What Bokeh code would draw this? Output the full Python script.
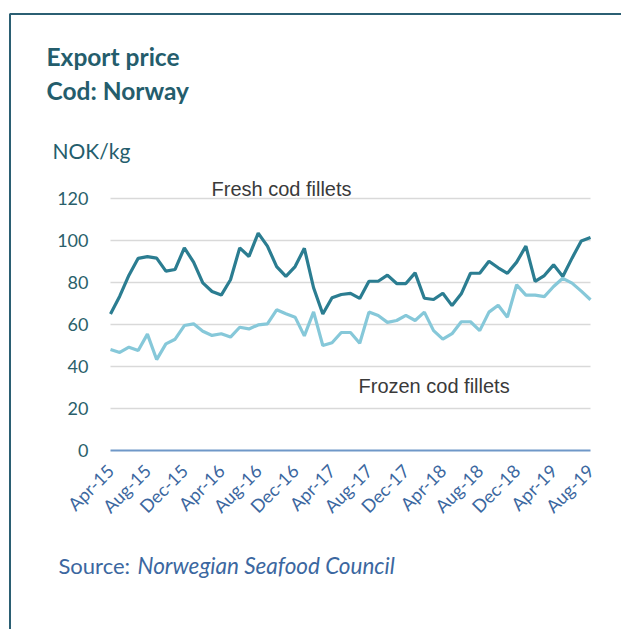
import math
from bokeh.plotting import figure
from bokeh.models import (Range1d, FixedTicker, Label, BoxAnnotation)
from bokeh.embed import file_html
from bokeh.resources import INLINE

months = ["Apr-15", "May-15", "Jun-15", "Jul-15", "Aug-15", "Sep-15", "Oct-15", "Nov-15", "Dec-15",
          "Jan-16", "Feb-16", "Mar-16", "Apr-16", "May-16", "Jun-16", "Jul-16", "Aug-16", "Sep-16",
          "Oct-16", "Nov-16", "Dec-16", "Jan-17", "Feb-17", "Mar-17", "Apr-17", "May-17", "Jun-17",
          "Jul-17", "Aug-17", "Sep-17", "Oct-17", "Nov-17", "Dec-17", "Jan-18", "Feb-18", "Mar-18",
          "Apr-18", "May-18", "Jun-18", "Jul-18", "Aug-18", "Sep-18", "Oct-18", "Nov-18", "Dec-18",
          "Jan-19", "Feb-19", "Mar-19", "Apr-19", "May-19", "Jun-19", "Jul-19", "Aug-19"]

fresh = [65, 73.5, 83.5, 91.5, 92.3, 91.6, 85.4, 86.2, 96.5, 89.7, 79.8, 75.7, 74, 81.3, 96.5, 92.4,
         103.5, 97.3, 87.6, 82.9, 87.6, 96.3, 77.5, 65, 72.7, 74.3, 74.8, 72.4, 80.6, 80.6, 83.5, 79.5,
         79.5, 84.6, 72.5, 71.9, 74.9, 69, 74.6, 84.4, 84.4, 90.1, 87, 84.4, 89.7, 97.3, 80.5, 83.3,
         88.4, 82.9, 91.6, 99.8, 101.4]

frozen = [48.1, 46.7, 49.2, 47.6, 55.4, 43.3, 50.8, 53, 59.5, 60.3, 56.8, 54.8, 55.6, 54, 58.7, 57.9,
          59.8, 60.3, 67, 65.1, 63.5, 54.6, 66, 50, 51.3, 56.2, 56.2, 51.1, 65.9, 64.3, 61, 61.9,
          64.3, 61.9, 65.9, 57.1, 53, 55.6, 61.3, 61.3, 57.1, 65.9, 69.2, 63.5, 78.9, 74, 74, 73.3,
          78.1, 82, 79.7, 75.9, 71.8]

y_ticks = [0, 20, 40, 60, 80, 100, 120]

idx = list(range(len(months)))
x_ticks = idx[::4]
n_last = len(months) - 1

# ---- layout (pixel geometry of the page) ----
W, H = 621, 629
PX_LEFT, PX_RIGHT = 110, 590      # x pixel of first / last month
PY_ZERO, PX_PER_UNIT = 450, 2.1   # y pixel of value 0, pixels per NOK
KX = (PX_RIGHT - PX_LEFT) / n_last

def dx(px):
    return (px - PX_LEFT) / KX

def dy(py):
    return (PY_ZERO - py) / PX_PER_UNIT

p = figure(width=W, height=H, output_backend="svg", toolbar_location=None,
           x_range=Range1d(dx(0), dx(W)), y_range=Range1d(dy(H), dy(0)),
           min_border=0)
p.title.visible = False
p.outline_line_color = None
p.background_fill_color = "white"
p.border_fill_color = "white"

p.xgrid.grid_line_color = None
grid_ok = True
try:
    p.ygrid.cross_bounds = (0, n_last)
except Exception:
    grid_ok = False
if grid_ok:
    p.ygrid.grid_line_color = "#d9d9d9"
    p.ygrid.grid_line_width = 1.5
    p.ygrid.ticker = FixedTicker(ticks=y_ticks[1:])
else:
    p.ygrid.grid_line_color = None
    p.segment(x0=[0] * (len(y_ticks) - 1), x1=[n_last] * (len(y_ticks) - 1),
              y0=y_ticks[1:], y1=y_ticks[1:], line_color="#d9d9d9", line_width=1.5)

p.yaxis.fixed_location = 0
p.yaxis.bounds = (0, 120)
p.yaxis.ticker = FixedTicker(ticks=y_ticks)
p.yaxis.axis_line_color = None
p.yaxis.major_tick_line_color = None
p.yaxis.major_tick_out = 0
p.yaxis.major_tick_in = 0
p.yaxis.minor_tick_line_color = None
p.yaxis.major_label_standoff = 22
p.yaxis.major_label_text_font = "Lato"
p.yaxis.major_label_text_font_size = "18px"
p.yaxis.major_label_text_color = "#2a5f6b"

p.xaxis.fixed_location = 0
p.xaxis.bounds = (0, n_last)
p.xaxis.ticker = FixedTicker(ticks=x_ticks)
p.xaxis.major_label_overrides = {i: months[i] for i in x_ticks}
p.xaxis.axis_line_color = "#6f98c8"
p.xaxis.axis_line_width = 2
p.xaxis.major_tick_line_color = None
p.xaxis.major_tick_out = 0
p.xaxis.major_tick_in = 0
p.xaxis.minor_tick_line_color = None
p.xaxis.major_label_orientation = math.pi / 4
p.xaxis.major_label_standoff = 17
p.xaxis.major_label_text_font = "Lato"
p.xaxis.major_label_text_font_size = "18px"
p.xaxis.major_label_text_color = "#3b67a0"

p.line(idx, fresh, line_color="#2b7d91", line_width=3.2)
p.line(idx, frozen, line_color="#86c8d9", line_width=3.2)

def lab(text, px, py, size, color, font="Lato", style="normal"):
    p.add_layout(Label(x=dx(px), y=dy(py), text=text,
                       text_font=font, text_font_size=size, text_color=color,
                       text_font_style=style, text_baseline="middle", text_align="left"))

lab("Export price", 46, 56, "24.5px", "#245d6c", style="bold")
lab("Cod: Norway", 46, 90, "24.5px", "#245d6c", style="bold")
lab("NOK/kg", 52, 150, "21px", "#245d6c")
lab("Fresh cod fillets", 211, 188, "20px", "#3a3a3a", font="Liberation Sans")
lab("Frozen cod fillets", 358, 385, "20px", "#3a3a3a", font="Liberation Sans")
lab("Source:", 58, 565, "22px", "#3b67a0")
lab("Norwegian Seafood Council", 137, 565, "22.5px", "#3b67a0", style="italic")

p.add_layout(BoxAnnotation(left=dx(9.5), right=dx(W + 20), top=dy(13.5), bottom=dy(H + 20),
                           fill_color=None, line_color="#2b5f73", line_alpha=1.0, line_width=2))

open("out.html", "w").write(file_html(p, INLINE))
